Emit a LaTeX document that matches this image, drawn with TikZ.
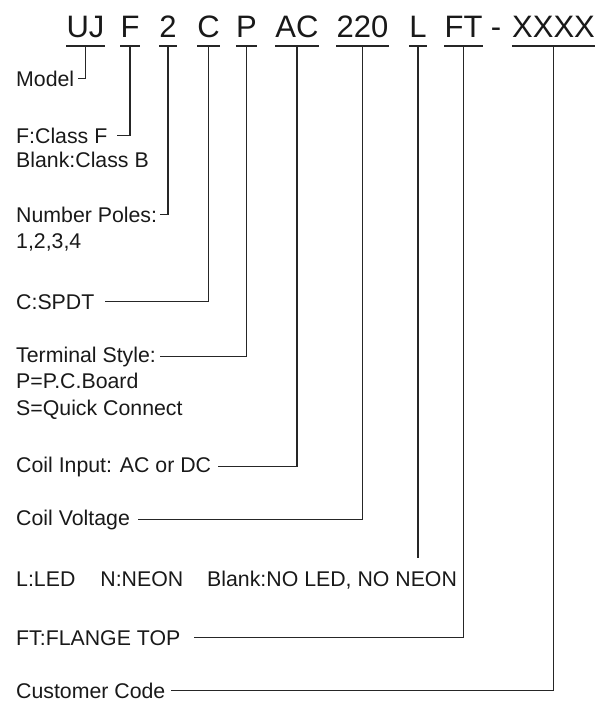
\documentclass[tikz,border=0pt]{standalone}
\usepackage{fontspec}
\setmainfont{Liberation Sans}
\usetikzlibrary{positioning,calc}

\begin{document}
\begin{tikzpicture}[
            x=1pt, y=-1pt,
            code/.style={font=\fontsize{31}{36}\selectfont, inner sep=0pt, anchor=base, text=black!90},
            lbl/.style={font=\fontsize{21.3}{25}\selectfont, inner xsep=0pt, inner ysep=1pt, anchor=base west, text=black!90},
            uline/.style={line width=1.2pt, draw=black!85},
            lead/.style={line width=1.2pt, draw=black!85}
        ]
            \useasboundingbox (0,0) rectangle (607,702);

            \node[code] (model) at (85.5,37) {UJ};
            \node[code] (class) at (130,37) {F};
            \node[code] (poles) at (168,37) {2};
            \node[code] (contact) at (208.5,37) {C};
            \node[code] (terminal) at (246.5,37) {P};
            \node[code] (input) at (297,37) {AC};
            \node[code] (voltage) at (362.5,37) {220};
            \node[code] (lamp) at (418,37) {L};
            \node[code] (flange) at (463.5,37) {FT};
            \node[code] (dash) at (496,37) {-};
            \node[code] (custom) at (553.5,37) {XXXX};

            \node[lbl] (modeltxt) at (16,86) {Model};
            \node[lbl] (classtxt) at (16,143) {F:Class F};
            \node[lbl] (classtxt2) at ([yshift=-24pt]classtxt.base west) {Blank:Class B};
            \node[lbl] (polestxt) at (16,222) {Number Poles:};
            \node[lbl] (polestxt2) at ([yshift=-26pt]polestxt.base west) {1,2,3,4};
            \node[lbl] (contacttxt) at (16,309) {C:SPDT};
            \node[lbl] (termtxt) at (16,362) {Terminal Style:};
            \node[lbl] (termtxt2) at ([yshift=-26pt]termtxt.base west) {P=P.C.Board};
            \node[lbl] (termtxt3) at ([yshift=-27pt]termtxt2.base west) {S=Quick Connect};
            \node[lbl] (inputtxt) at (16,472) {Coil Input: AC or DC};
            \node[lbl] (volttxt) at (16,525) {Coil Voltage};
            \node[lbl] (lamptxt) at (16,586) {L:LED\hspace{25pt}N:NEON\hspace{24pt}Blank:NO LED, NO NEON};
            \node[lbl] (flangetxt) at (16,645) {FT:FLANGE TOP};
            \node[lbl] (customtxt) at (16,698) {Customer Code};

            \draw[uline] ([yshift=-9pt]model.base west) -- ([yshift=-9pt]model.base east);
            \draw[uline] ([yshift=-9pt]class.base west) -- ([yshift=-9pt]class.base east);
            \draw[uline] ([yshift=-9pt]poles.base west) -- ([yshift=-9pt]poles.base east);
            \draw[uline] ([yshift=-9pt]contact.base west) -- ([yshift=-9pt]contact.base east);
            \draw[uline] ([yshift=-9pt]terminal.base west) -- ([yshift=-9pt]terminal.base east);
            \draw[uline] ([yshift=-9pt]input.base west) -- ([yshift=-9pt]input.base east);
            \draw[uline] ([yshift=-9pt]voltage.base west) -- ([yshift=-9pt]voltage.base east);
            \draw[uline] ([yshift=-9pt]lamp.base west) -- ([yshift=-9pt]lamp.base east);
            \draw[uline] ([yshift=-9pt]flange.base west) -- ([yshift=-9pt]flange.base east);
            \draw[uline] ([yshift=-9pt]custom.base west) -- ([yshift=-9pt]custom.base east);

            \draw[lead] ([yshift=-9pt]model.base) |- ([xshift=4pt]modeltxt.east);
            \draw[lead] ([yshift=-9pt]class.base) |- ([xshift=9pt]classtxt.east);
            \draw[lead] ([yshift=-9pt]poles.base) |- ([xshift=3pt]polestxt.east);
            \draw[lead] ([yshift=-9pt]contact.base) |- ([xshift=10pt]contacttxt.east);
            \draw[lead] ([yshift=-9pt]terminal.base) |- ([xshift=4pt]termtxt.east);
            \draw[lead] ([yshift=-9pt]input.base) |- ([xshift=7pt]inputtxt.east);
            \draw[lead] ([yshift=-9pt]voltage.base) |- ([xshift=8pt]volttxt.east);
            \draw[lead, shorten >=11pt] ([yshift=-9pt]lamp.base) -- (lamp |- lamptxt.north);
            \draw[lead] ([yshift=-9pt]flange.base) |- ([xshift=13pt]flangetxt.east);
            \draw[lead] ([yshift=-9pt]custom.base) |- ([xshift=5pt]customtxt.east);
        \end{tikzpicture}
\end{document}
